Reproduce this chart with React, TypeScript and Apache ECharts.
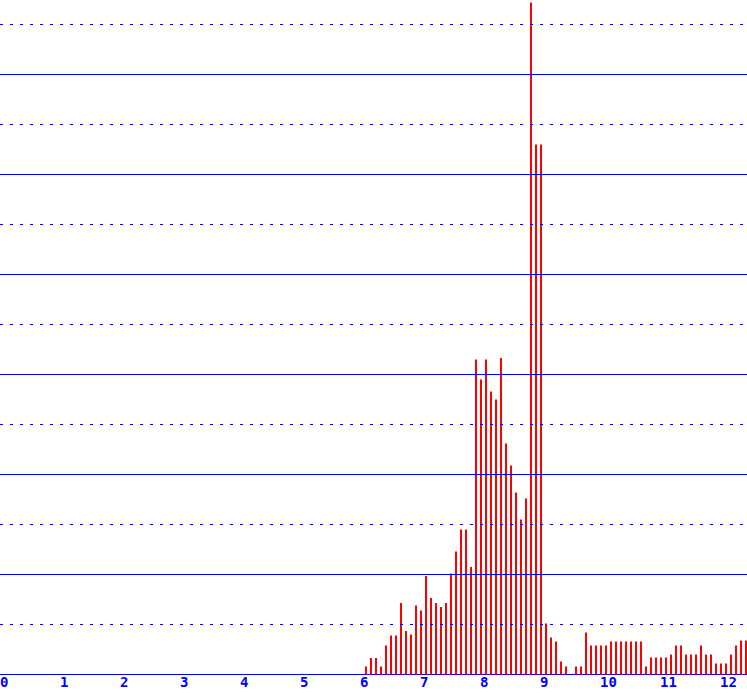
import React, { useEffect, useRef } from 'react';
import * as echarts from 'echarts';

// histogram bins: 12 bins per unit, starting at 6
const binStart = 6;
const binsPerUnit = 12;
const binValues = [
    1.6, 3.3, 3.3, 1.6, 5.8, 7.8, 7.8, 14.3, 8.7, 8.0, 13.8, 12.8,
    19.7, 15.3, 14.3, 13.5, 14.3, 20.2, 24.6, 29.0, 29.0, 21.5, 63.0, 59.0,
    63.0, 56.6, 55.0, 63.3, 46.2, 41.8, 36.4, 31.0, 35.2, 134.4, 106.0, 106.0,
    10.2, 7.4, 6.6, 2.6, 1.6, 0, 1.6, 1.6, 8.4, 5.8, 5.8, 5.8,
    5.8, 6.6, 6.6, 6.6, 6.6, 6.6, 6.6, 6.6, 1.6, 3.4, 3.4, 3.4,
    3.4, 4.0, 5.8, 5.8, 4.0, 4.0, 4.0, 5.8, 4.0, 4.0, 2.2, 2.2,
    2.2, 4.0, 5.8, 6.8, 6.8,
];
const xTicks = [0, 1, 2, 3, 4, 5, 6, 7, 8, 9, 10, 11, 12];
const solidLevels = [20, 40, 60, 80, 100, 120];
const dottedLevels = [10, 30, 50, 70, 90, 110, 130];

const X_MIN = -3.5 / 60;
const X_MAX = X_MIN + 747 / 60;
const Y_MAX = 134.8;
// shift the label axis so the first digit sits on the tick
const LABEL_SHIFT = 3.45 / 60;

const BLUE = '#0000ff';
const RED = '#ff0000';

const App: React.FC = () => {
    const chartRef = useRef<HTMLDivElement>(null);

    useEffect(() => {
        if (!chartRef.current) return;
        const chart = echarts.init(chartRef.current, undefined, { renderer: 'svg' });

        const data = binValues.map((v, i) => [binStart + (i + 0.5) / binsPerUnit, v]);

        const option: echarts.EChartsOption = {
            animation: false,
            grid: {
                left: 0,
                right: 0,
                top: 0.5,
                bottom: 19.5,
                containLabel: false,
                outerBoundsMode: 'none',
            } as any,
            xAxis: [
                {
                    type: 'value',
                    min: X_MIN,
                    max: X_MAX,
                    axisLine: { show: true, lineStyle: { color: BLUE, width: 1 } },
                    axisTick: { show: false },
                    axisLabel: { show: false },
                    splitLine: { show: false },
                },
                {
                    type: 'value',
                    position: 'bottom',
                    min: X_MIN + LABEL_SHIFT,
                    max: X_MAX + LABEL_SHIFT,
                    axisLine: { show: false },
                    axisTick: { show: false },
                    splitLine: { show: false },
                    axisLabel: {
                        show: true,
                        customValues: xTicks,
                        align: 'left',
                        margin: 0,
                        color: BLUE,
                        fontFamily: 'DejaVu Sans Mono',
                        fontWeight: 'bold',
                        fontSize: 14,
                    },
                } as any,
            ],
            yAxis: {
                type: 'value',
                min: 0,
                max: Y_MAX,
                show: false,
                splitLine: { show: false },
            },
            series: [
                {
                    type: 'bar',
                    xAxisIndex: 0,
                    data,
                    barWidth: 2,
                    itemStyle: { color: RED },
                    silent: true,
                    markLine: {
                        silent: true,
                        symbol: ['none', 'none'],
                        label: { show: false },
                        data: [
                            ...solidLevels.map(v => ({
                                yAxis: v,
                                lineStyle: { color: BLUE, width: 1, type: 'solid' as const },
                            })),
                            ...dottedLevels.map(v => ({
                                yAxis: v,
                                lineStyle: { color: BLUE, width: 1, type: [3, 7] as any },
                            })),
                        ],
                    },
                },
            ],
        };

        chart.setOption(option);
        return () => chart.dispose();
    }, []);

    return (
        <div
            ref={chartRef}
            style={{ position: 'fixed', left: 0, top: 0, width: 747, height: 694, background: '#fff' }}
        />
    );
};

export default App;
